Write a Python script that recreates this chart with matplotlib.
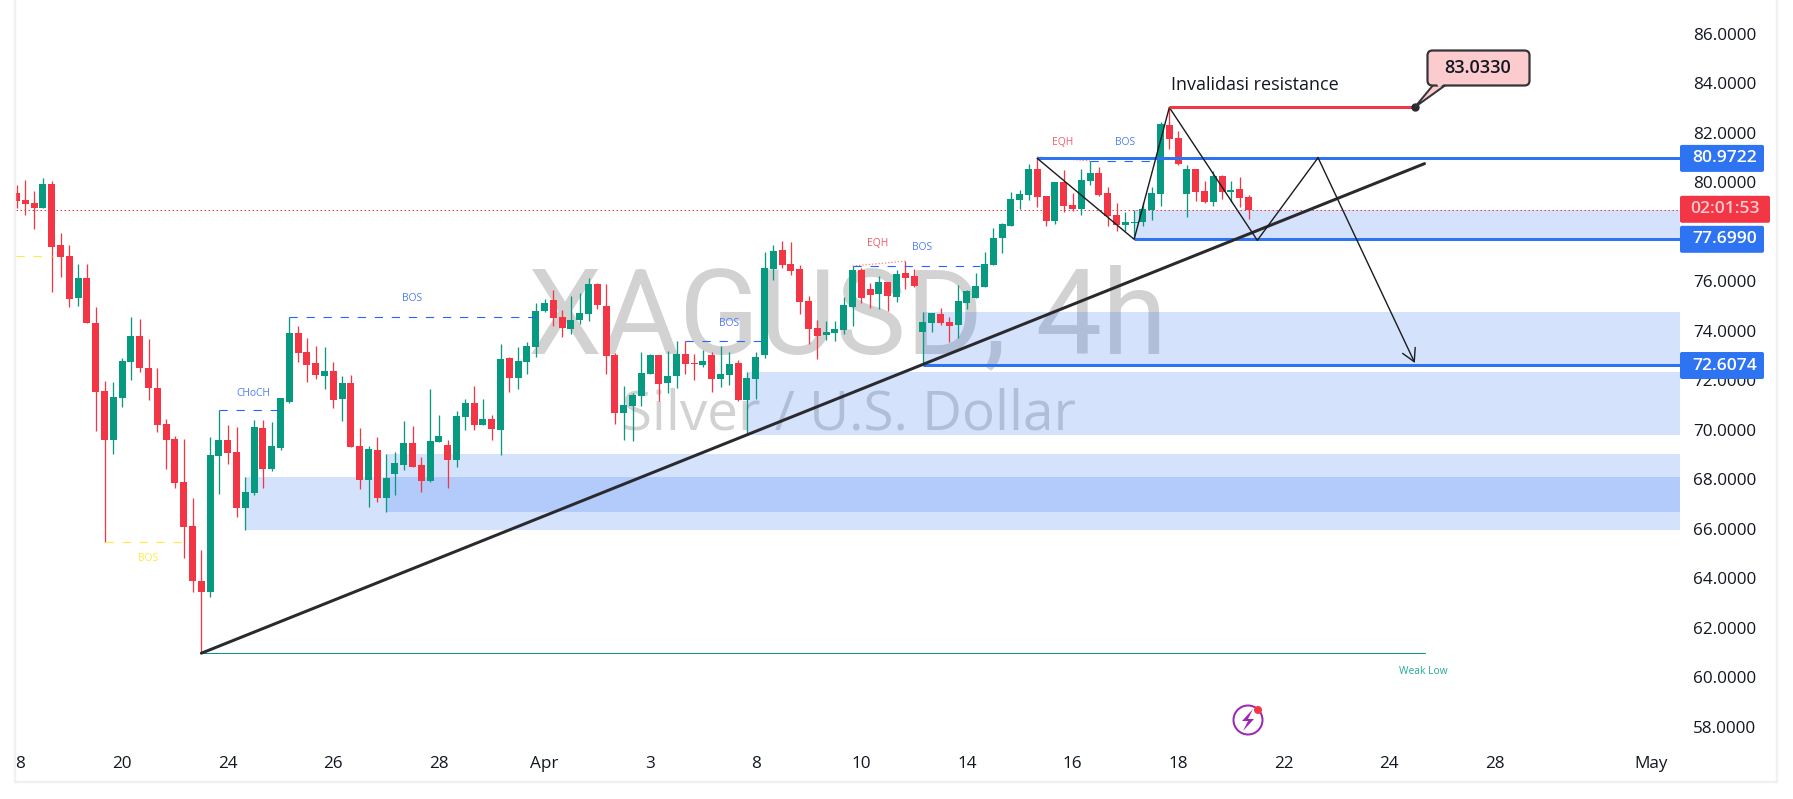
import numpy as np
import matplotlib
matplotlib.use("Agg")
import matplotlib.pyplot as plt
from matplotlib.patches import FancyBboxPatch, Polygon, Circle
from matplotlib.transforms import Affine2D

WIDTH, HEIGHT = 1793, 799

opens = [79.57, 79.29, 79.17, 78.98, 79.94, 77.47, 77.03, 75.34, 76.14, 74.33,
         71.58, 69.60, 71.30, 72.75, 73.79, 72.50, 71.70, 70.24, 69.63, 67.89,
         66.11, 63.89, 63.46, 68.96, 69.59, 69.10, 66.82, 67.46, 70.07, 68.43,
         69.28, 71.14, 73.93, 73.16, 72.71, 72.19, 72.39, 71.26, 71.91, 69.36,
         67.99, 69.20, 67.26, 68.23, 68.59, 69.48, 68.59, 67.95, 69.52, 69.40,
         68.76, 70.53, 71.10, 70.21, 70.44, 70.01, 72.91, 72.11, 72.76, 73.36,
         74.80, 75.25, 74.56, 74.09, 74.45, 74.69, 75.89, 75.00, 73.03, 70.69,
         70.98, 71.38, 72.27, 73.03, 71.91, 72.19, 73.06, 72.70, 72.62, 73.03,
         72.07, 72.23, 72.70, 71.22, 72.07, 73.04, 76.50, 77.27, 76.70, 76.50,
         75.21, 74.13, 73.85, 73.93, 74.05, 74.98, 76.46, 75.69, 75.50, 75.98,
         75.38, 76.34, 76.22, 73.95, 74.32, 74.68, 74.36, 74.24, 75.14, 75.34,
         75.79, 76.68, 77.77, 78.25, 79.29, 79.49, 80.54, 79.45, 78.45, 80.02,
         79.09, 78.93, 80.06, 80.38, 79.57, 78.68, 78.28, 78.38, 78.40, 78.89,
         79.53, 82.32, 81.80, 79.53, 80.54, 79.65, 79.21, 80.26, 79.61, 79.73,
         79.41]
closes = [79.26, 79.14, 78.98, 79.94, 77.40, 77.00, 75.30, 76.14, 74.33, 71.54,
          69.60, 71.33, 72.78, 73.79, 72.51, 71.70, 70.21, 69.60, 67.87, 66.09,
          63.90, 63.46, 68.98, 69.59, 69.08, 66.82, 67.49, 70.12, 68.43, 69.35,
          71.30, 73.93, 73.12, 72.64, 72.23, 72.39, 71.22, 71.91, 69.32, 67.99,
          69.24, 67.26, 68.07, 68.67, 69.48, 68.51, 67.95, 69.55, 69.77, 68.80,
          70.56, 71.10, 70.21, 70.44, 70.05, 72.87, 72.11, 72.78, 73.39, 74.80,
          75.13, 74.53, 74.13, 74.44, 74.72, 75.89, 75.06, 73.00, 70.69, 71.00,
          71.41, 72.30, 73.03, 71.86, 72.17, 73.06, 72.67, 72.67, 72.78, 72.07,
          72.26, 72.66, 71.22, 72.09, 72.94, 76.54, 77.23, 76.66, 76.42, 75.17,
          74.09, 73.80, 73.95, 74.08, 75.05, 76.46, 75.34, 75.46, 75.98, 75.42,
          76.30, 76.15, 75.81, 74.36, 74.72, 74.32, 74.20, 75.21, 75.61, 75.81,
          76.70, 77.75, 78.32, 79.33, 79.53, 80.54, 79.42, 78.45, 80.02, 79.05,
          78.93, 80.10, 80.38, 79.49, 78.64, 78.28, 78.40, 78.40, 78.93, 79.57,
          82.36, 81.75, 80.75, 80.54, 79.61, 79.21, 80.26, 79.61, 79.69, 79.37,
          78.89]
highs = [79.90, 80.10, 79.65, 80.18, 80.06, 77.96, 77.47, 76.70, 76.70, 74.96,
         71.99, 71.93, 72.90, 74.56, 74.48, 73.67, 72.50, 70.44, 69.76, 69.63,
         67.25, 65.15, 69.71, 70.80, 70.20, 70.13, 68.10, 70.40, 70.40, 70.32,
         71.30, 74.56, 74.20, 73.73, 73.40, 73.36, 72.76, 72.19, 72.23, 70.09,
         69.36, 69.72, 69.04, 69.12, 70.37, 70.17, 68.92, 71.67, 70.60, 69.59,
         70.76, 71.26, 71.77, 71.26, 70.60, 73.47, 72.95, 73.35, 73.55, 75.13,
         75.30, 75.66, 74.84, 75.41, 75.54, 76.14, 75.95, 75.89, 73.10, 71.77,
         71.49, 73.14, 73.07, 73.03, 73.19, 73.59, 73.59, 73.06, 73.23, 73.15,
         73.39, 73.15, 72.82, 72.34, 73.15, 77.19, 77.47, 77.63, 77.59, 76.66,
         75.41, 74.44, 74.40, 74.40, 75.37, 76.62, 76.54, 75.94, 76.22, 75.98,
         76.46, 76.82, 76.50, 74.76, 74.72, 74.92, 74.56, 75.85, 75.65, 76.34,
         77.19, 78.16, 78.36, 79.61, 79.70, 80.75, 81.03, 79.45, 80.02, 80.50,
         79.57, 80.54, 80.87, 80.62, 79.82, 79.17, 78.80, 78.89, 79.21, 79.82,
         82.44, 83.03, 82.08, 80.70, 80.54, 80.06, 80.46, 80.30, 80.06, 80.22,
         79.49]
lows = [78.98, 78.70, 78.13, 78.98, 75.58, 76.19, 74.98, 75.02, 74.33, 69.97,
        65.45, 69.02, 70.94, 72.03, 72.35, 71.22, 69.93, 68.43, 67.66, 64.83,
        63.46, 60.97, 63.26, 67.42, 68.63, 66.49, 65.97, 67.38, 67.66, 68.35,
        69.20, 71.10, 72.76, 71.95, 72.07, 71.67, 70.90, 70.37, 69.32, 67.62,
        66.90, 67.10, 66.69, 67.38, 68.39, 68.51, 67.50, 67.91, 69.52, 67.66,
        68.51, 70.01, 70.01, 70.21, 69.60, 69.00, 71.54, 71.63, 72.27, 72.96,
        74.77, 74.21, 73.77, 73.89, 74.29, 74.41, 74.90, 72.27, 70.25, 69.60,
        69.56, 70.98, 72.27, 71.18, 71.50, 71.70, 72.27, 72.01, 72.54, 71.54,
        71.74, 71.82, 71.18, 69.81, 71.26, 72.92, 76.05, 76.54, 76.26, 74.68,
        73.47, 72.88, 73.63, 73.59, 73.89, 74.21, 75.14, 74.94, 74.90, 74.82,
        75.18, 75.71, 75.77, 72.62, 73.95, 74.24, 73.55, 73.71, 74.90, 75.34,
        75.79, 76.68, 77.16, 78.25, 78.93, 79.29, 79.01, 78.24, 78.33, 78.81,
        78.85, 78.68, 79.90, 79.45, 78.24, 78.04, 78.04, 77.75, 78.24, 78.48,
        79.05, 81.35, 80.70, 78.60, 79.25, 79.17, 79.05, 79.33, 79.21, 79.01,
        78.52]

# time axis, in bar numbers
date_ticks = [0.4, 12, 24, 36, 48, 60, 72, 84, 96, 108, 120, 132, 144, 156, 168, 185.7]
date_labels = ["8", "20", "24", "26", "28", "Apr", "3", "8", "10", "14", "16", "18", "22", "24", "28", "May"]
price_ticks = list(range(58, 88, 2))

# demand / supply zones: start bar, bottom, top
zone_start = [127, 103, 83, 26, 42]
zone_bottom = [77.699, 72.6074, 69.80, 65.96, 66.69]
zone_top = [78.89, 74.78, 72.34, 68.09, 69.02]

# horizontal levels
level_prices = [80.9722, 77.699, 72.6074]
level_start = [116, 127, 103]

# structure breaks: start bar, end bar, price, colour
struct_start = [-0.1, 10, 23, 31, 76, 95, 122]
struct_end = [4, 19.7, 29.7, 59, 85, 109.5, 130]
struct_price = [77.03, 65.45, 70.79, 74.55, 73.58, 76.61, 80.86]
struct_color = ["#ffeb3b", "#ffeb3b", "#2962ff", "#2962ff", "#2962ff", "#2962ff", "#2962ff"]

# small labels
tag_text = ["BOS", "CHoCH", "BOS", "BOS", "EQH", "BOS", "EQH", "BOS"]
tag_x = [14.95, 26.87, 44.95, 81, 97.9, 102.9, 118.9, 125.95]
tag_price = [64.78, 71.48, 75.31, 74.28, 77.55, 77.35, 81.6, 81.6]
tag_color = ["#ffeb3b", "#4e7df5", "#4e7df5", "#4e7df5", "#f4596a", "#4e7df5", "#f4596a", "#4e7df5"]

eqh_x = [[95, 101], [116, 122]]
eqh_y = [[76.62, 76.82], [81.03, 80.87]]

trend_x = [21, 160]
trend_y = [60.97, 80.76]
zigzag_x = [116, 127, 131, 141, 147.9, 158.9]
zigzag_y = [80.97, 77.70, 83.03, 77.66, 81.0, 72.7]

GREEN = "#089981"
RED = "#f23645"
BLUE = "#2e74f2"
DARK = "#2a2a2e"
FONT = "Open Sans"
PX = 0.72  # one pixel in points at dpi 100

plt.rcParams["font.family"] = [FONT, "DejaVu Sans"]

fig = plt.figure(figsize=(WIDTH / 100, HEIGHT / 100), dpi=100, facecolor="white")
ax = fig.add_axes([16 / WIDTH, 54 / HEIGHT, (1680 - 16) / WIDTH, 745 / HEIGHT])
ax.set_xlim(-0.06, 189.03)
ax.set_ylim(57.26, 87.374)
for s in ax.spines.values():
    s.set_visible(False)

# image pixels, y going down, for everything that is not part of the chart scale
px = Affine2D().scale(1, -1).translate(0, HEIGHT)

ax.set_xticks(date_ticks)
ax.set_xticklabels(date_labels)
ax.yaxis.tick_right()
ax.set_yticks(price_ticks)
ax.set_yticklabels([f"{p:.4f}" for p in price_ticks])
ax.tick_params(axis="x", length=0, pad=8, labelsize=12.3, labelcolor="#131722")
ax.tick_params(axis="y", length=0, pad=9.4, labelsize=12.3, labelcolor="#131722")

# watermark
fig.text(528, 353, "XAGUSD, 4h", transform=px, fontsize=85, family=["Roboto", "DejaVu Sans"], color="#d2d2d2",
         ha="left", va="baseline", zorder=-1)
fig.text(622, 430, "Silver / U.S. Dollar", transform=px, fontsize=39.5, color="#d2d2d2",
         ha="left", va="baseline", zorder=-1)
ax.patch.set_visible(False)

# zones
for start, bottom, top in zip(zone_start, zone_bottom, zone_top):
    ax.fill_between([start, 189.03], bottom, top, color="#2e6ff2", alpha=0.2, lw=0, zorder=1)

# last price line
ax.axhline(closes[-1], color=RED, lw=1 * PX, ls=(0, (1.5, 2.5)), zorder=1.5)

# candles
bars = np.arange(len(opens))
o, c, h, l = map(np.array, (opens, closes, highs, lows))
colors = [GREEN if b >= a else RED for a, b in zip(o, c)]
ax.vlines(bars, l, h, colors=colors, lw=1.3 * PX, zorder=2)
ax.bar(bars, np.maximum(np.abs(c - o), 0.04), bottom=np.minimum(o, c), width=0.8,
       color=colors, lw=0, zorder=2.1)

# structure breaks
for start, end, price, col in zip(struct_start, struct_end, struct_price, struct_color):
    ax.plot([start, end], [price, price], color=col, lw=1.1 * PX, ls=(0, (7.5, 8)), zorder=2.5)
for xs, ys in zip(eqh_x, eqh_y):
    ax.plot(xs, ys, color=RED, lw=1.2 * PX, ls=(0, (1.2, 1.5)), alpha=0.6, zorder=2.6)
for text, x, y, col in zip(tag_text, tag_x, tag_price, tag_color):
    ax.text(x, y, text, color=col, fontsize=7.4, ha="center", va="center", zorder=3)

# weak low
ax.plot([21, 160], [60.97, 60.97], color=GREEN, lw=1 * PX, zorder=2.6)
ax.text(159.9, 60.23, "Weak Low", color="#22ab94", fontsize=7.4, ha="center", va="center", zorder=3)

# blue levels
for price, start in zip(level_prices, level_start):
    ax.plot([start, 189.03], [price, price], color=BLUE, lw=3 * PX, zorder=3.2, solid_capstyle="butt")

# drawings
ax.plot(trend_x, trend_y, color=DARK, lw=3 * PX, zorder=3.4, solid_capstyle="round")
ax.plot(zigzag_x[:-1], zigzag_y[:-1], color="#1c1c20", lw=1.4 * PX, zorder=3.5)
ax.annotate("", xy=(zigzag_x[-1], zigzag_y[-1]), xytext=(zigzag_x[-2], zigzag_y[-2]),
            arrowprops=dict(arrowstyle="->,head_length=0.45,head_width=0.25", color="#1c1c20", lw=1.4 * PX,
                            mutation_scale=20, shrinkA=0, shrinkB=0), zorder=3.5)

# 83.0330 line with its callout
ax.plot([131, 158.9], [83.033, 83.033], color=RED, lw=3 * PX, zorder=3.6, solid_capstyle="butt")
ax.plot([158.9], [83.033], "o", color=DARK, ms=5, zorder=3.7, clip_on=False)
ax.text(131.2, 83.94, "Invalidasi resistance", color="#131722", fontsize=13, fontweight="medium",
        ha="left", va="center", zorder=4)

fig.add_artist(Polygon([(1434, 84), (1447, 84), (1415, 107)], closed=True, transform=px,
                       facecolor="#fccbcd", edgecolor="#333338", lw=2 * PX, zorder=5))
fig.add_artist(FancyBboxPatch((1430, 53), 97, 30, boxstyle="round,pad=2.5,rounding_size=5", transform=px,
                              facecolor="#fccbcd", edgecolor="#333338", lw=2.2 * PX, zorder=5))
fig.add_artist(Polygon([(1436, 82), (1446, 82), (1439, 88)], closed=True, transform=px,
                       facecolor="#fccbcd", edgecolor="none", zorder=5))
fig.text(1478, 68, "83.0330", transform=px, fontsize=13, color="#131722", fontweight="semibold",
         ha="center", va="center", zorder=6)


# price tags on the scale
def price_tag(price_text, y, x1, color, text_color):
    fig.add_artist(FancyBboxPatch((1681, y - 12.5), x1 - 1682, 25, boxstyle="round,pad=1,rounding_size=2",
                                  transform=px, facecolor=color, edgecolor="none", zorder=5))
    fig.text(1725, y, price_text, transform=px, fontsize=12.6, color=text_color, fontweight="semibold",
             ha="center", va="center", zorder=6)


price_tag("80.9722", 158.4, 1764, BLUE, "white")
price_tag("77.6990", 239.3, 1764, BLUE, "white")
price_tag("72.6074", 365.5, 1764, BLUE, "white")
price_tag("02:01:53", 209.3, 1770, RED, "#fcc9cd")

# alert icon
fig.add_artist(Circle((1248, 720), 14.5, transform=px, facecolor="none", edgecolor="#9c27b0", lw=2 * PX, zorder=5))
fig.add_artist(Polygon([(1253, 709), (1242, 721), (1248, 721), (1243, 731), (1254, 719), (1248, 719)],
                       closed=True, transform=px, facecolor="#9c27b0", edgecolor="none", zorder=5))
fig.add_artist(Circle((1258, 710), 4, transform=px, facecolor=RED, edgecolor="none", zorder=6))

# panel borders
for xs, ys in (([15, 15], [0, 782]), ([15, 1777], [782, 782]), ([1777, 1777], [0, 782])):
    fig.add_artist(plt.Line2D(xs, ys, transform=px, color="#f0f1f3", lw=2.4 * PX, zorder=4))

fig.savefig("out.png", dpi=100, facecolor="white")
